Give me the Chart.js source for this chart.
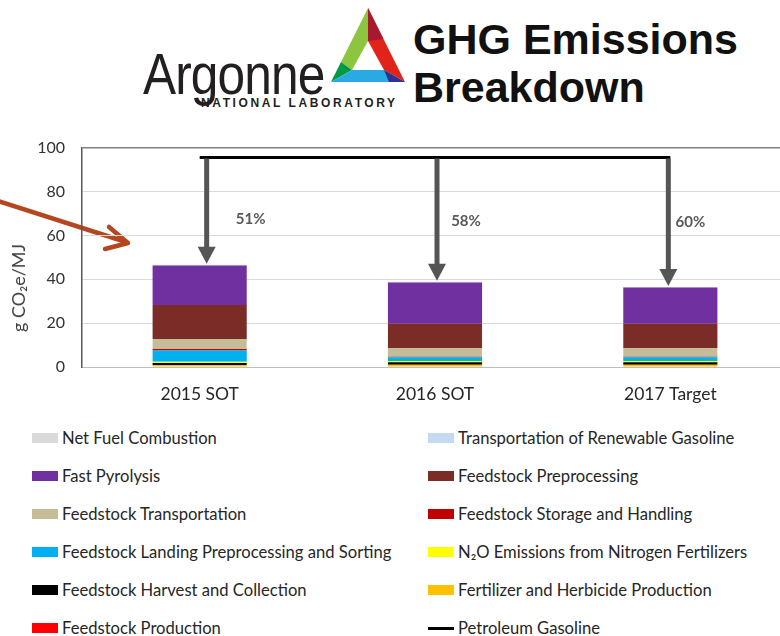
<!DOCTYPE html>
<html>
<head>
<meta charset="utf-8">
<title>GHG Emissions Breakdown</title>
<script src="https://cdn.jsdelivr.net/npm/chart.js@4.4.1/dist/chart.umd.min.js"></script>
<style>
  html, body { margin: 0; padding: 0; background: #fff; }
  body { width: 780px; height: 636px; overflow: hidden; position: relative; font-family: Lato, "Liberation Sans", sans-serif; }
  .abs { position: absolute; white-space: nowrap; }
  #argonne { left: 143px; top: 46px; font: 57px/57px "Liberation Sans", Arial, sans-serif; color: #231f20; transform: scaleX(0.87); transform-origin: left top; letter-spacing: -1px; }
  #natlab { left: 201px; top: 97px; font: bold 12px/12px "Liberation Sans", Arial, sans-serif; color: #231f20; letter-spacing: 2.6px; }
  .ghg { left: 413px; font: bold 43px/43px "Liberation Sans", Arial, sans-serif; color: #111; }
  #chart { position: absolute; left: 0; top: 121px; }
  #ytitle { left: 18px; top: 288px; font-size: 18px; color: #404040; transform: translate(-50%, -50%) rotate(-90deg); }
  #legend { position: absolute; left: 0; top: 419px; width: 780px; }
  .row { position: absolute; height: 38px; display: flex; align-items: center; font-size: 16.6px; color: #262626; }
  .sw { display: inline-block; width: 26px; height: 10px; margin-right: 4px; }
  .sw.line { height: 3px; }
  svg { position: absolute; left: 0; top: 0; }
</style>
</head>
<body>

<svg width="780" height="636">
  <!-- logo triangle -->
  <polygon points="368,8 341,62 352,70 368,41" fill="#8cc63f"/>
  <polygon points="341,62 331,82 352,70" fill="#009a44"/>
  <polygon points="368,8 405,82 384,70 368,41" fill="#e2231a"/>
  <polygon points="368,8 383.5,39 368,41" fill="#a6192e"/>
  <polygon points="331,82 405,82 384,70 352,70" fill="#29abe2"/>
  <polygon points="389,82 405,82 384,70" fill="#2e3192"/>
  <!-- pointer arrow on the left -->
  <g stroke="#b4471f" stroke-width="4.5" fill="none" stroke-linecap="round" stroke-linejoin="round">
    <line x1="-2" y1="201" x2="126" y2="242"/>
    <polyline points="109,227 128,243 105,249"/>
  </g>
</svg>

<div class="abs" id="argonne">Argonne</div>
<div class="abs" id="natlab">NATIONAL LABORATORY</div>
<div class="abs ghg" style="top:18px">GHG Emissions</div>
<div class="abs ghg" style="top:66px">Breakdown</div>

<canvas id="chart" width="800" height="289"></canvas>
<div class="abs" id="ytitle">g CO₂e/MJ</div>
<div id="legend"></div>

<script>
// ---------------- data ----------------
const categories = ['2015 SOT', '2016 SOT', '2017 Target'];

// stacked from the bottom up
const feedstockProduction   = [0, 0, 0];
const fertilizerHerbicide   = [0.9, 1.0, 1.0];
const harvestCollection     = [0.9, 1.2, 1.2];
const n2oEmissions          = [0.6, 0.5, 0.5];
const landingPreprocessing  = [5.1, 1.8, 1.8];
const storageHandling       = [0.7, 0.2, 0.2];
const feedstockTransport    = [4.6, 3.9, 3.9];
const feedstockPreprocess   = [15.5, 11.1, 11.1];
const fastPyrolysis         = [18.0, 18.8, 16.5];
const renewableTransport    = [0.3, 0.3, 0.3];
const netFuelCombustion     = [0, 0, 0];

const petroleumGasoline = [95.5, 95.5, 95.5];
const reductionLabels = ['51%', '58%', '60%'];

const yTicks = [0, 20, 40, 60, 80, 100];

// ---------------- datasets ----------------
const barSeries = [
    { label: 'Feedstock Production', data: feedstockProduction, color: '#ff0000' },
    { label: 'Fertilizer and Herbicide Production', data: fertilizerHerbicide, color: '#ffc000' },
    { label: 'Feedstock Harvest and Collection', data: harvestCollection, color: '#000000' },
    { label: 'N₂O Emissions from Nitrogen Fertilizers', data: n2oEmissions, color: '#ffff00' },
    { label: 'Feedstock Landing Preprocessing and Sorting', data: landingPreprocessing, color: '#00b0f0' },
    { label: 'Feedstock Storage and Handling', data: storageHandling, color: '#c00000' },
    { label: 'Feedstock Transportation', data: feedstockTransport, color: '#c4bd97' },
    { label: 'Feedstock Preprocessing', data: feedstockPreprocess, color: '#7b2c26' },
    { label: 'Fast Pyrolysis', data: fastPyrolysis, color: '#7030a0' },
    { label: 'Transportation of Renewable Gasoline', data: renewableTransport, color: '#c5d9f1' },
    { label: 'Net Fuel Combustion', data: netFuelCombustion, color: '#d9d9d9' }
];

const datasets = barSeries.map(s => ({
    type: 'bar',
    label: s.label,
    data: s.data,
    backgroundColor: s.color,
    borderWidth: 0,
    stack: 'ghg',
    barPercentage: 0.4,
    categoryPercentage: 1
}));

datasets.push({
    type: 'line',
    label: 'Petroleum Gasoline',
    data: petroleumGasoline,
    borderColor: '#000',
    backgroundColor: '#000',
    borderWidth: 3,
    pointRadius: 0,
    stack: 'petro'
});

// layout tweaks for the arrows and their labels (pixels / value units)
const arrowShift = [7, 2, -2];
const labelShift = [44, 29, 22];
const labelValue = [67.6, 66.7, 66.2];

// arrows from the petroleum line down to each bar
const arrowPlugin = {
    id: 'reductionArrows',
    afterDatasetsDraw(chart) {
        const ctx = chart.ctx;
        const x = chart.scales.x;
        const y = chart.scales.y;
        categories.forEach((c, i) => {
            const total = barSeries.reduce((sum, s) => sum + s.data[i], 0);
            const ax = x.getPixelForValue(i) + arrowShift[i];
            const y0 = y.getPixelForValue(petroleumGasoline[i]) + 1;
            const tip = y.getPixelForValue(total) - 1;
            const head = 17;
            ctx.save();
            ctx.fillStyle = '#555555';
            ctx.fillRect(ax - 2.5, y0, 5, tip - head - y0 + 1);
            ctx.beginPath();
            ctx.moveTo(ax - 9, tip - head);
            ctx.lineTo(ax + 9, tip - head);
            ctx.lineTo(ax, tip);
            ctx.closePath();
            ctx.fill();
            ctx.fillStyle = '#595959';
            ctx.font = 'bold 15px Lato, "Liberation Sans", sans-serif';
            ctx.textAlign = 'center';
            ctx.textBaseline = 'middle';
            ctx.fillText(reductionLabels[i], ax + labelShift[i], y.getPixelForValue(labelValue[i]));
            ctx.restore();
        });
    }
};

new Chart(document.getElementById('chart'), {
    data: { labels: categories, datasets: datasets },
    options: {
        responsive: false,
        animation: false,
        layout: { padding: { top: 10, right: 12, left: 0, bottom: 0 } },
        plugins: {
            legend: { display: false },
            tooltip: { enabled: false }
        },
        scales: {
            x: {
                stacked: true,
                grid: { display: false },
                border: { color: '#bfbfbf', width: 1 },
                ticks: { color: '#262626', font: { size: 17.5, family: 'Lato, "Liberation Sans", sans-serif' }, padding: 9 },
                afterFit: s => { s.height = 43; }
            },
            y: {
                stacked: true,
                min: 0,
                max: 100,
                afterBuildTicks: s => { s.ticks = yTicks.map(v => ({ value: v })); },
                ticks: { color: '#333333', font: { size: 16, family: 'Lato, "Liberation Sans", sans-serif' }, padding: 17 },
                grid: {
                    drawTicks: false,
                    color: ctx => ctx.tick.value === 100 ? '#7f7f7f' : '#d9d9d9',
                    lineWidth: ctx => ctx.tick.value === 100 ? 1.5 : 1
                },
                border: { color: '#595959', width: 1.5 },
                afterFit: s => { s.width = 82; }
            }
        }
    },
    plugins: [arrowPlugin]
});

// two-column legend in the order of the original
const legendOrder = [
    'Net Fuel Combustion', 'Transportation of Renewable Gasoline',
    'Fast Pyrolysis', 'Feedstock Preprocessing',
    'Feedstock Transportation', 'Feedstock Storage and Handling',
    'Feedstock Landing Preprocessing and Sorting', 'N₂O Emissions from Nitrogen Fertilizers',
    'Feedstock Harvest and Collection', 'Fertilizer and Herbicide Production',
    'Feedstock Production', 'Petroleum Gasoline'
];
const legendEl = document.getElementById('legend');
legendOrder.forEach((name, k) => {
    const ds = datasets.find(d => d.label === name);
    const row = document.createElement('div');
    row.className = 'row';
    row.style.left = (k % 2 === 0 ? 32 : 428) + 'px';
    row.style.top = (Math.floor(k / 2) * 38) + 'px';
    const sw = document.createElement('span');
    sw.className = 'sw' + (ds.type === 'line' ? ' line' : '');
    sw.style.background = ds.type === 'line' ? ds.borderColor : ds.backgroundColor;
    row.appendChild(sw);
    row.appendChild(document.createTextNode(name));
    legendEl.appendChild(row);
});
</script>
</body>
</html>
